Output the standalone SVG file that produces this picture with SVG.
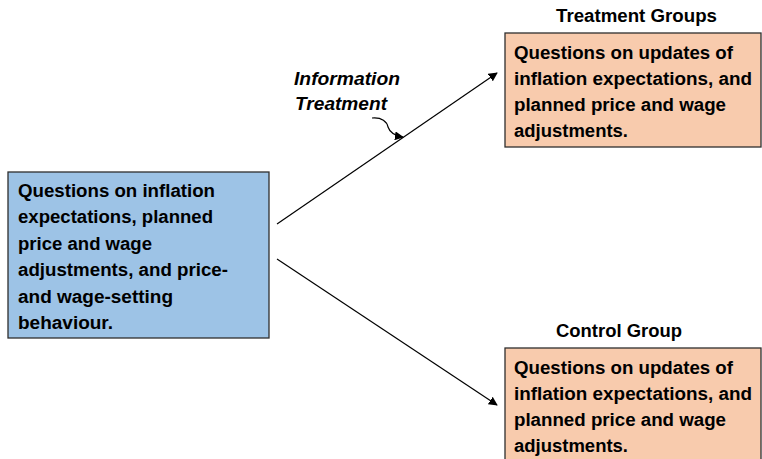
<svg xmlns="http://www.w3.org/2000/svg" width="762" height="459" viewBox="0 0 762 459">
<style>
.box{stroke:#2f2f2f;stroke-width:1.3}
.t{font-family:"Liberation Sans",Arial,sans-serif;font-weight:bold;font-size:18px;fill:#000}
.it{font-style:italic}
.c{fill:none;stroke:#000;stroke-width:1.2}
</style>
<defs>
<marker id="ah" viewBox="0 0 10 10" refX="9" refY="5" markerWidth="9" markerHeight="9" markerUnits="userSpaceOnUse" orient="auto">
<path d="M0,0 L10,5 L0,10 z" fill="#000"/>
</marker>
</defs>
<rect width="762" height="459" fill="#fff"/>
<g id="connectors">
<line class="c" x1="277" y1="224" x2="497" y2="73" marker-end="url(#ah)"/>
<line class="c" x1="277" y1="259" x2="497" y2="405" marker-end="url(#ah)"/>
<path class="c" d="M372,118 C382,117 387,122 388,127 C390,133 396,136 403,137" marker-end="url(#ah)"/>
</g>
<g id="baseline">
<rect class="box" x="8" y="172" width="261" height="166" fill="#9DC3E6"/>
<text class="t" x="18" y="197" textLength="197" lengthAdjust="spacingAndGlyphs">Questions on inflation</text>
<text class="t" x="18" y="223" textLength="195" lengthAdjust="spacingAndGlyphs">expectations, planned</text>
<text class="t" x="18" y="250" textLength="134" lengthAdjust="spacingAndGlyphs">price and wage</text>
<text class="t" x="18" y="276" textLength="210" lengthAdjust="spacingAndGlyphs">adjustments, and price-</text>
<text class="t" x="18" y="303" textLength="155" lengthAdjust="spacingAndGlyphs">and wage-setting</text>
<text class="t" x="18" y="329" textLength="95" lengthAdjust="spacingAndGlyphs">behaviour.</text>
</g>
<g id="info-label">
<text class="t it" x="294" y="85" textLength="106" lengthAdjust="spacingAndGlyphs">Information</text>
<text class="t it" x="295" y="110" textLength="92" lengthAdjust="spacingAndGlyphs">Treatment</text>
</g>
<g id="treatment">
<text class="t" x="556" y="22" textLength="161" lengthAdjust="spacingAndGlyphs">Treatment Groups</text>
<rect class="box" x="505" y="33" width="256" height="114" fill="#F8CBAD"/>
<text class="t" x="514" y="59" textLength="219" lengthAdjust="spacingAndGlyphs">Questions on updates of</text>
<text class="t" x="514" y="85" textLength="238" lengthAdjust="spacingAndGlyphs">inflation expectations, and</text>
<text class="t" x="514" y="111" textLength="212" lengthAdjust="spacingAndGlyphs">planned price and wage</text>
<text class="t" x="514" y="137" textLength="114" lengthAdjust="spacingAndGlyphs">adjustments.</text>
</g>
<g id="control">
<text class="t" x="556" y="337" textLength="126" lengthAdjust="spacingAndGlyphs">Control Group</text>
<rect class="box" x="505" y="348" width="256" height="120" fill="#F8CBAD"/>
<text class="t" x="514" y="374" textLength="219" lengthAdjust="spacingAndGlyphs">Questions on updates of</text>
<text class="t" x="514" y="400" textLength="238" lengthAdjust="spacingAndGlyphs">inflation expectations, and</text>
<text class="t" x="514" y="426" textLength="212" lengthAdjust="spacingAndGlyphs">planned price and wage</text>
<text class="t" x="514" y="452" textLength="114" lengthAdjust="spacingAndGlyphs">adjustments.</text>
</g>
</svg>
